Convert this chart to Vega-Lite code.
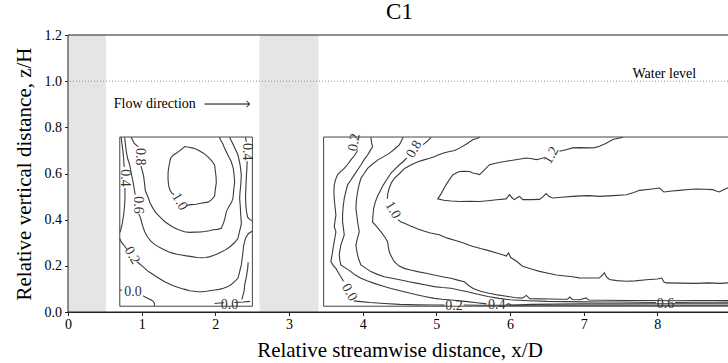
{
  "$schema": "https://vega.github.io/schema/vega-lite/v6.json",
  "width": 663,
  "height": 277,
  "autosize": {"type": "none"},
  "padding": {"left": 68, "top": 35, "right": 0, "bottom": 51},
  "background": "white",
  "title": {"text": "C1", "font": "Liberation Serif", "fontSize": 23, "fontWeight": "normal", "color": "black", "anchor": "middle", "offset": 4},
  "config": {
    "view": {"stroke": null},
    "axis": {
      "labelFont": "Liberation Serif", "titleFont": "Liberation Serif",
      "labelColor": "black", "titleColor": "black", "titleFontWeight": "normal",
      "domainColor": "#222", "tickColor": "#222", "domainWidth": 1, "tickWidth": 1,
      "grid": false, "labelFontSize": 14, "titleFontSize": 21, "tickSize": 3.5, "zindex": 1
    }
  },
  "layer": [
    {
      "description": "shaded cylinder footprints",
      "data": {"values": [
        {"x": 0, "x2": 0.515, "y": 0, "y2": 1.2},
        {"x": 2.6, "x2": 3.4, "y": 0, "y2": 1.2}
      ]},
      "mark": {"type": "rect", "color": "#e5e5e5"},
      "encoding": {
        "x": {"field": "x", "type": "quantitative", "scale": {"domain": [0, 9], "nice": false, "zero": false},
              "axis": {"title": "Relative streamwise distance, x/D", "values": [0, 1, 2, 3, 4, 5, 6, 7, 8], "format": "d", "labelFlush": false, "labelPadding": 2, "titlePadding": 8}},
        "x2": {"field": "x2"},
        "y": {"field": "y", "type": "quantitative", "scale": {"domain": [0, 1.2], "nice": false, "zero": false},
              "axis": {"title": "Relative vertical distance, z/H", "values": [0, 0.2, 0.4, 0.6, 0.8, 1.0, 1.2], "format": ".1f", "labelFlush": false, "labelPadding": 3, "titlePadding": 10}},
        "y2": {"field": "y2"}
      }
    },
    {
      "description": "water surface",
      "data": {"values": [{"y": 1.0}]},
      "mark": {"type": "rule", "color": "#777", "strokeDash": [1, 2], "strokeWidth": 0.8},
      "encoding": {"y": {"field": "y", "type": "quantitative"}}
    },
    {
      "description": "measurement windows",
      "data": {"values": [
        {"x": 0.703, "x2": 2.503, "y": 0.025, "y2": 0.758},
        {"x": 3.47, "x2": 9.0, "y": 0.025, "y2": 0.758}
      ]},
      "mark": {"type": "rect", "fillOpacity": 0, "stroke": "#444", "strokeWidth": 1},
      "encoding": {
        "x": {"field": "x", "type": "quantitative"}, "x2": {"field": "x2"},
        "y": {"field": "y", "type": "quantitative"}, "y2": {"field": "y2"}
      }
    },
    {
      "description": "velocity contour lines, one polyline per segment",
      "data": {"values": [
        {"c":"A10","x":1.60,"y":0.462},{"c":"A10","x":1.674,"y":0.465},{"c":"A10","x":1.74,"y":0.467},{"c":"A10","x":1.80,"y":0.471},{"c":"A10","x":1.90,"y":0.476},{"c":"A10","x":1.95,"y":0.487},{"c":"A10","x":1.99,"y":0.502},{"c":"A10","x":2.0,"y":0.53},{"c":"A10","x":2.013,"y":0.56},{"c":"A10","x":2.01,"y":0.585},{"c":"A10","x":2.0,"y":0.612},{"c":"A10","x":1.99,"y":0.637},{"c":"A10","x":1.95,"y":0.655},{"c":"A10","x":1.90,"y":0.672},{"c":"A10","x":1.84,"y":0.688},{"c":"A10","x":1.764,"y":0.702},{"c":"A10","x":1.70,"y":0.71},{"c":"A10","x":1.64,"y":0.714},{"c":"A10","x":1.583,"y":0.717},{"c":"A10","x":1.55,"y":0.707},{"c":"A10","x":1.50,"y":0.695},{"c":"A10","x":1.471,"y":0.688},{"c":"A10","x":1.43,"y":0.68},{"c":"A10","x":1.393,"y":0.666},{"c":"A10","x":1.375,"y":0.64},{"c":"A10","x":1.36,"y":0.61},{"c":"A10","x":1.357,"y":0.58},{"c":"A10","x":1.365,"y":0.55},{"c":"A10","x":1.385,"y":0.527},{"c":"A10","x":1.41,"y":0.515},{"c":"A10","x":1.44,"y":0.508},

        {"c":"A08a","x":0.858,"y":0.757},{"c":"A08a","x":0.90,"y":0.73},{"c":"A08a","x":0.955,"y":0.715},
        {"c":"A08b","x":0.99,"y":0.632},{"c":"A08b","x":1.012,"y":0.608},{"c":"A08b","x":1.028,"y":0.585},{"c":"A08b","x":1.041,"y":0.552},{"c":"A08b","x":1.05,"y":0.525},{"c":"A08b","x":1.07,"y":0.51},{"c":"A08b","x":1.086,"y":0.498},{"c":"A08b","x":1.115,"y":0.472},{"c":"A08b","x":1.153,"y":0.449},{"c":"A08b","x":1.20,"y":0.427},{"c":"A08b","x":1.267,"y":0.406},{"c":"A08b","x":1.32,"y":0.39},{"c":"A08b","x":1.38,"y":0.377},{"c":"A08b","x":1.44,"y":0.365},{"c":"A08b","x":1.50,"y":0.356},{"c":"A08b","x":1.583,"y":0.348},{"c":"A08b","x":1.65,"y":0.345},{"c":"A08b","x":1.72,"y":0.346},{"c":"A08b","x":1.80,"y":0.347},{"c":"A08b","x":1.855,"y":0.349},{"c":"A08b","x":1.92,"y":0.352},{"c":"A08b","x":1.97,"y":0.356},{"c":"A08b","x":2.03,"y":0.358},{"c":"A08b","x":2.081,"y":0.363},{"c":"A08b","x":2.11,"y":0.385},{"c":"A08b","x":2.126,"y":0.40},{"c":"A08b","x":2.15,"y":0.435},{"c":"A08b","x":2.19,"y":0.46},{"c":"A08b","x":2.22,"y":0.475},{"c":"A08b","x":2.239,"y":0.492},{"c":"A08b","x":2.25,"y":0.53},{"c":"A08b","x":2.262,"y":0.565},{"c":"A08b","x":2.255,"y":0.59},{"c":"A08b","x":2.245,"y":0.62},{"c":"A08b","x":2.217,"y":0.651},{"c":"A08b","x":2.17,"y":0.68},{"c":"A08b","x":2.126,"y":0.709},{"c":"A08b","x":2.10,"y":0.73},{"c":"A08b","x":2.07,"y":0.745},{"c":"A08b","x":2.058,"y":0.757},

        {"c":"A06a","x":0.769,"y":0.757},{"c":"A06a","x":0.78,"y":0.725},{"c":"A06a","x":0.792,"y":0.694},{"c":"A06a","x":0.81,"y":0.665},{"c":"A06a","x":0.837,"y":0.637},{"c":"A06a","x":0.86,"y":0.60},{"c":"A06a","x":0.882,"y":0.565},{"c":"A06a","x":0.898,"y":0.535},{"c":"A06a","x":0.912,"y":0.508},
        {"c":"A06b","x":0.962,"y":0.424},{"c":"A06b","x":0.986,"y":0.406},{"c":"A06b","x":1.01,"y":0.376},{"c":"A06b","x":1.041,"y":0.348},{"c":"A06b","x":1.08,"y":0.325},{"c":"A06b","x":1.131,"y":0.305},{"c":"A06b","x":1.18,"y":0.292},{"c":"A06b","x":1.24,"y":0.28},{"c":"A06b","x":1.312,"y":0.269},{"c":"A06b","x":1.37,"y":0.26},{"c":"A06b","x":1.42,"y":0.255},{"c":"A06b","x":1.48,"y":0.25},{"c":"A06b","x":1.539,"y":0.247},{"c":"A06b","x":1.61,"y":0.243},{"c":"A06b","x":1.68,"y":0.24},{"c":"A06b","x":1.75,"y":0.236},{"c":"A06b","x":1.81,"y":0.235},{"c":"A06b","x":1.87,"y":0.236},{"c":"A06b","x":1.93,"y":0.24},{"c":"A06b","x":1.99,"y":0.247},{"c":"A06b","x":2.04,"y":0.253},{"c":"A06b","x":2.08,"y":0.26},{"c":"A06b","x":2.13,"y":0.268},{"c":"A06b","x":2.171,"y":0.276},{"c":"A06b","x":2.21,"y":0.286},{"c":"A06b","x":2.26,"y":0.30},{"c":"A06b","x":2.307,"y":0.319},{"c":"A06b","x":2.325,"y":0.345},{"c":"A06b","x":2.345,"y":0.37},{"c":"A06b","x":2.353,"y":0.384},{"c":"A06b","x":2.345,"y":0.42},{"c":"A06b","x":2.338,"y":0.46},{"c":"A06b","x":2.33,"y":0.492},{"c":"A06b","x":2.335,"y":0.52},{"c":"A06b","x":2.345,"y":0.55},{"c":"A06b","x":2.353,"y":0.594},{"c":"A06b","x":2.335,"y":0.64},{"c":"A06b","x":2.307,"y":0.68},{"c":"A06b","x":2.28,"y":0.70},{"c":"A06b","x":2.25,"y":0.72},{"c":"A06b","x":2.22,"y":0.74},{"c":"A06b","x":2.194,"y":0.757},

        {"c":"A04a","x":0.722,"y":0.757},{"c":"A04a","x":0.732,"y":0.73},{"c":"A04a","x":0.745,"y":0.70},{"c":"A04a","x":0.755,"y":0.665},{"c":"A04a","x":0.762,"y":0.628},
        {"c":"A04b","x":0.772,"y":0.537},{"c":"A04b","x":0.774,"y":0.50},{"c":"A04b","x":0.768,"y":0.46},{"c":"A04b","x":0.755,"y":0.42},{"c":"A04b","x":0.738,"y":0.385},{"c":"A04b","x":0.72,"y":0.36},{"c":"A04b","x":0.704,"y":0.345},
        {"c":"A04c","x":2.41,"y":0.757},{"c":"A04c","x":2.42,"y":0.737},
        {"c":"A04d","x":2.432,"y":0.653},{"c":"A04d","x":2.428,"y":0.62},{"c":"A04d","x":2.42,"y":0.58},{"c":"A04d","x":2.415,"y":0.54},{"c":"A04d","x":2.41,"y":0.50},{"c":"A04d","x":2.415,"y":0.46},{"c":"A04d","x":2.425,"y":0.43},{"c":"A04d","x":2.44,"y":0.41},{"c":"A04d","x":2.47,"y":0.40},{"c":"A04d","x":2.50,"y":0.395},

        {"c":"A02a","x":0.703,"y":0.318},{"c":"A02a","x":0.72,"y":0.305},{"c":"A02a","x":0.745,"y":0.295},{"c":"A02a","x":0.77,"y":0.285},{"c":"A02a","x":0.80,"y":0.272},
        {"c":"A02b","x":0.935,"y":0.218},{"c":"A02b","x":0.965,"y":0.21},{"c":"A02b","x":0.996,"y":0.202},{"c":"A02b","x":1.04,"y":0.19},{"c":"A02b","x":1.08,"y":0.178},{"c":"A02b","x":1.13,"y":0.168},{"c":"A02b","x":1.176,"y":0.158},{"c":"A02b","x":1.25,"y":0.143},{"c":"A02b","x":1.312,"y":0.131},{"c":"A02b","x":1.37,"y":0.122},{"c":"A02b","x":1.42,"y":0.115},{"c":"A02b","x":1.48,"y":0.108},{"c":"A02b","x":1.539,"y":0.102},{"c":"A02b","x":1.60,"y":0.097},{"c":"A02b","x":1.65,"y":0.092},{"c":"A02b","x":1.71,"y":0.09},{"c":"A02b","x":1.764,"y":0.088},{"c":"A02b","x":1.82,"y":0.088},{"c":"A02b","x":1.88,"y":0.09},{"c":"A02b","x":1.94,"y":0.093},{"c":"A02b","x":1.99,"y":0.095},{"c":"A02b","x":2.05,"y":0.098},{"c":"A02b","x":2.11,"y":0.103},{"c":"A02b","x":2.171,"y":0.11},{"c":"A02b","x":2.22,"y":0.12},{"c":"A02b","x":2.26,"y":0.132},{"c":"A02b","x":2.307,"y":0.146},{"c":"A02b","x":2.33,"y":0.175},{"c":"A02b","x":2.353,"y":0.204},{"c":"A02b","x":2.365,"y":0.235},{"c":"A02b","x":2.375,"y":0.261},{"c":"A02b","x":2.385,"y":0.29},{"c":"A02b","x":2.41,"y":0.32},{"c":"A02b","x":2.45,"y":0.34},{"c":"A02b","x":2.50,"y":0.35},

        {"c":"A00a","x":0.703,"y":0.095},{"c":"A00a","x":0.735,"y":0.094},
        {"c":"A00b","x":1.02,"y":0.07},{"c":"A00b","x":1.041,"y":0.066},{"c":"A00b","x":1.08,"y":0.06},{"c":"A00b","x":1.131,"y":0.052},{"c":"A00b","x":1.155,"y":0.046},{"c":"A00b","x":1.17,"y":0.04},{"c":"A00b","x":1.176,"y":0.034},{"c":"A00b","x":1.17,"y":0.027},
        {"c":"A00c","x":1.99,"y":0.037},{"c":"A00c","x":2.06,"y":0.039},{"c":"A00c","x":2.12,"y":0.04},
        {"c":"A00d","x":2.26,"y":0.041},{"c":"A00d","x":2.32,"y":0.042},{"c":"A00d","x":2.38,"y":0.043},{"c":"A00d","x":2.44,"y":0.045},{"c":"A00d","x":2.47,"y":0.046},
        {"c":"A0e","x":2.36,"y":0.055},{"c":"A0e","x":2.39,"y":0.09},{"c":"A0e","x":2.40,"y":0.12},{"c":"A0e","x":2.42,"y":0.15},{"c":"A0e","x":2.44,"y":0.19},{"c":"A0e","x":2.445,"y":0.215},

        {"c":"B02a","x":3.931,"y":0.700},{"c":"B02a","x":3.89,"y":0.678},{"c":"B02a","x":3.84,"y":0.659},{"c":"B02a","x":3.80,"y":0.641},{"c":"B02a","x":3.75,"y":0.622},{"c":"B02a","x":3.70,"y":0.608},{"c":"B02a","x":3.659,"y":0.594},{"c":"B02a","x":3.63,"y":0.572},{"c":"B02a","x":3.614,"y":0.55},{"c":"B02a","x":3.61,"y":0.52},{"c":"B02a","x":3.614,"y":0.492},{"c":"B02a","x":3.625,"y":0.455},{"c":"B02a","x":3.637,"y":0.42},{"c":"B02a","x":3.625,"y":0.395},{"c":"B02a","x":3.614,"y":0.37},{"c":"B02a","x":3.637,"y":0.348},{"c":"B02a","x":3.625,"y":0.325},{"c":"B02a","x":3.614,"y":0.305},{"c":"B02a","x":3.60,"y":0.28},{"c":"B02a","x":3.592,"y":0.261},{"c":"B02a","x":3.58,"y":0.24},{"c":"B02a","x":3.569,"y":0.218},{"c":"B02a","x":3.60,"y":0.202},{"c":"B02a","x":3.637,"y":0.189},{"c":"B02a","x":3.67,"y":0.17},{"c":"B02a","x":3.704,"y":0.153},{"c":"B02a","x":3.74,"y":0.133},
        {"c":"B02b","x":3.88,"y":0.048},{"c":"B02b","x":3.976,"y":0.045},{"c":"B02b","x":4.1,"y":0.041},{"c":"B02b","x":4.293,"y":0.037},{"c":"B02b","x":4.5,"y":0.033},{"c":"B02b","x":4.745,"y":0.031},{"c":"B02b","x":5.0,"y":0.030},{"c":"B02b","x":5.11,"y":0.030},
        {"c":"B02c","x":5.37,"y":0.030},{"c":"B02c","x":5.6,"y":0.029},{"c":"B02c","x":6.0,"y":0.029},{"c":"B02c","x":6.5,"y":0.029},{"c":"B02c","x":7.0,"y":0.029},{"c":"B02c","x":7.5,"y":0.029},{"c":"B02c","x":8.0,"y":0.029},{"c":"B02c","x":8.5,"y":0.029},{"c":"B02c","x":9.0,"y":0.029},

        {"c":"B04a","x":4.111,"y":0.757},{"c":"B04a","x":4.12,"y":0.735},{"c":"B04a","x":4.134,"y":0.716},{"c":"B04a","x":4.10,"y":0.698},{"c":"B04a","x":4.067,"y":0.68},{"c":"B04a","x":4.02,"y":0.66},{"c":"B04a","x":3.976,"y":0.637},{"c":"B04a","x":3.93,"y":0.615},{"c":"B04a","x":3.886,"y":0.594},{"c":"B04a","x":3.84,"y":0.572},{"c":"B04a","x":3.795,"y":0.55},{"c":"B04a","x":3.77,"y":0.52},{"c":"B04a","x":3.75,"y":0.492},{"c":"B04a","x":3.735,"y":0.455},{"c":"B04a","x":3.727,"y":0.42},{"c":"B04a","x":3.727,"y":0.391},{"c":"B04a","x":3.74,"y":0.36},{"c":"B04a","x":3.75,"y":0.334},{"c":"B04a","x":3.725,"y":0.31},{"c":"B04a","x":3.704,"y":0.29},{"c":"B04a","x":3.69,"y":0.265},{"c":"B04a","x":3.682,"y":0.247},{"c":"B04a","x":3.69,"y":0.225},{"c":"B04a","x":3.704,"y":0.204},{"c":"B04a","x":3.77,"y":0.19},{"c":"B04a","x":3.84,"y":0.175},{"c":"B04a","x":3.90,"y":0.16},{"c":"B04a","x":3.976,"y":0.146},{"c":"B04a","x":4.06,"y":0.135},{"c":"B04a","x":4.157,"y":0.124},{"c":"B04a","x":4.27,"y":0.113},{"c":"B04a","x":4.383,"y":0.102},{"c":"B04a","x":4.47,"y":0.095},{"c":"B04a","x":4.564,"y":0.088},{"c":"B04a","x":4.65,"y":0.081},{"c":"B04a","x":4.745,"y":0.074},{"c":"B04a","x":4.86,"y":0.066},{"c":"B04a","x":4.971,"y":0.059},{"c":"B04a","x":5.08,"y":0.055},{"c":"B04a","x":5.197,"y":0.052},{"c":"B04a","x":5.31,"y":0.048},{"c":"B04a","x":5.423,"y":0.045},{"c":"B04a","x":5.55,"y":0.04},{"c":"B04a","x":5.68,"y":0.035},
        {"c":"B04b","x":5.95,"y":0.031},{"c":"B04b","x":5.98,"y":0.036},{"c":"B04b","x":6.01,"y":0.031},{"c":"B04b","x":6.05,"y":0.030},{"c":"B04b","x":6.3,"y":0.033},{"c":"B04b","x":6.6,"y":0.034},{"c":"B04b","x":7.0,"y":0.035},{"c":"B04b","x":7.5,"y":0.035},{"c":"B04b","x":8.0,"y":0.036},{"c":"B04b","x":8.5,"y":0.036},{"c":"B04b","x":9.0,"y":0.036},

        {"c":"B06a","x":4.55,"y":0.757},{"c":"B06a","x":4.52,"y":0.738},{"c":"B06a","x":4.497,"y":0.724},{"c":"B06a","x":4.43,"y":0.705},{"c":"B06a","x":4.361,"y":0.687},{"c":"B06a","x":4.28,"y":0.672},{"c":"B06a","x":4.202,"y":0.658},{"c":"B06a","x":4.13,"y":0.64},{"c":"B06a","x":4.067,"y":0.622},{"c":"B06a","x":4.02,"y":0.60},{"c":"B06a","x":3.976,"y":0.579},{"c":"B06a","x":3.95,"y":0.55},{"c":"B06a","x":3.931,"y":0.521},{"c":"B06a","x":3.915,"y":0.485},{"c":"B06a","x":3.908,"y":0.449},{"c":"B06a","x":3.92,"y":0.42},{"c":"B06a","x":3.931,"y":0.391},{"c":"B06a","x":3.954,"y":0.348},{"c":"B06a","x":3.93,"y":0.32},{"c":"B06a","x":3.908,"y":0.29},{"c":"B06a","x":3.92,"y":0.265},{"c":"B06a","x":3.931,"y":0.247},{"c":"B06a","x":3.95,"y":0.225},{"c":"B06a","x":3.976,"y":0.204},{"c":"B06a","x":4.04,"y":0.19},{"c":"B06a","x":4.111,"y":0.175},{"c":"B06a","x":4.2,"y":0.163},{"c":"B06a","x":4.293,"y":0.153},{"c":"B06a","x":4.4,"y":0.146},{"c":"B06a","x":4.518,"y":0.139},{"c":"B06a","x":4.63,"y":0.131},{"c":"B06a","x":4.745,"y":0.124},{"c":"B06a","x":4.86,"y":0.117},{"c":"B06a","x":4.971,"y":0.11},{"c":"B06a","x":5.08,"y":0.106},{"c":"B06a","x":5.197,"y":0.103},{"c":"B06a","x":5.31,"y":0.095},{"c":"B06a","x":5.423,"y":0.088},{"c":"B06a","x":5.55,"y":0.078},{"c":"B06a","x":5.7,"y":0.067},{"c":"B06a","x":5.85,"y":0.059},{"c":"B06a","x":6.0,"y":0.053},{"c":"B06a","x":6.25,"y":0.049},{"c":"B06a","x":6.5,"y":0.046},{"c":"B06a","x":6.75,"y":0.045},{"c":"B06a","x":7.0,"y":0.044},{"c":"B06a","x":7.25,"y":0.043},{"c":"B06a","x":7.5,"y":0.043},{"c":"B06a","x":7.75,"y":0.042},{"c":"B06a","x":7.98,"y":0.041},
        {"c":"B06b","x":8.24,"y":0.041},{"c":"B06b","x":8.5,"y":0.042},{"c":"B06b","x":8.75,"y":0.042},{"c":"B06b","x":9.0,"y":0.043},

        {"c":"B08a","x":4.93,"y":0.757},{"c":"B08a","x":4.88,"y":0.74},{"c":"B08a","x":4.82,"y":0.725},
        {"c":"B08b","x":4.60,"y":0.668},{"c":"B08b","x":4.55,"y":0.652},{"c":"B08b","x":4.50,"y":0.638},{"c":"B08b","x":4.44,"y":0.62},{"c":"B08b","x":4.38,"y":0.60},{"c":"B08b","x":4.33,"y":0.575},{"c":"B08b","x":4.28,"y":0.55},{"c":"B08b","x":4.24,"y":0.525},{"c":"B08b","x":4.20,"y":0.50},{"c":"B08b","x":4.17,"y":0.475},{"c":"B08b","x":4.15,"y":0.45},{"c":"B08b","x":4.14,"y":0.42},{"c":"B08b","x":4.134,"y":0.39},{"c":"B08b","x":4.19,"y":0.37},{"c":"B08b","x":4.247,"y":0.348},{"c":"B08b","x":4.30,"y":0.325},{"c":"B08b","x":4.338,"y":0.305},{"c":"B08b","x":4.35,"y":0.28},{"c":"B08b","x":4.361,"y":0.261},{"c":"B08b","x":4.39,"y":0.24},{"c":"B08b","x":4.429,"y":0.218},{"c":"B08b","x":4.49,"y":0.20},{"c":"B08b","x":4.564,"y":0.189},{"c":"B08b","x":4.65,"y":0.182},{"c":"B08b","x":4.745,"y":0.175},{"c":"B08b","x":4.86,"y":0.168},{"c":"B08b","x":4.971,"y":0.16},{"c":"B08b","x":5.08,"y":0.153},{"c":"B08b","x":5.197,"y":0.146},{"c":"B08b","x":5.29,"y":0.138},{"c":"B08b","x":5.378,"y":0.131},{"c":"B08b","x":5.44,"y":0.115},{"c":"B08b","x":5.5,"y":0.102},{"c":"B08b","x":5.6,"y":0.09},{"c":"B08b","x":5.7,"y":0.082},{"c":"B08b","x":5.83,"y":0.074},{"c":"B08b","x":5.95,"y":0.068},{"c":"B08b","x":6.06,"y":0.063},{"c":"B08b","x":6.17,"y":0.06},{"c":"B08b","x":6.22,"y":0.072},{"c":"B08b","x":6.27,"y":0.058},{"c":"B08b","x":6.4,"y":0.057},{"c":"B08b","x":6.55,"y":0.056},{"c":"B08b","x":6.7,"y":0.055},{"c":"B08b","x":6.78,"y":0.055},{"c":"B08b","x":6.81,"y":0.065},{"c":"B08b","x":6.85,"y":0.054},{"c":"B08b","x":6.95,"y":0.053},{"c":"B08b","x":7.03,"y":0.061},{"c":"B08b","x":7.07,"y":0.052},{"c":"B08b","x":7.3,"y":0.051},{"c":"B08b","x":7.6,"y":0.05},{"c":"B08b","x":7.9,"y":0.05},{"c":"B08b","x":8.2,"y":0.049},{"c":"B08b","x":8.5,"y":0.05},{"c":"B08b","x":8.8,"y":0.05},{"c":"B08b","x":9.0,"y":0.05},

        {"c":"B10a","x":5.59,"y":0.757},{"c":"B10a","x":5.55,"y":0.752},{"c":"B10a","x":5.50,"y":0.747},{"c":"B10a","x":5.41,"y":0.728},{"c":"B10a","x":5.32,"y":0.711},{"c":"B10a","x":5.25,"y":0.70},{"c":"B10a","x":5.18,"y":0.695},{"c":"B10a","x":5.11,"y":0.69},{"c":"B10a","x":5.04,"y":0.682},{"c":"B10a","x":4.97,"y":0.673},{"c":"B10a","x":4.90,"y":0.665},{"c":"B10a","x":4.82,"y":0.658},{"c":"B10a","x":4.75,"y":0.651},{"c":"B10a","x":4.66,"y":0.638},{"c":"B10a","x":4.57,"y":0.622},{"c":"B10a","x":4.50,"y":0.60},{"c":"B10a","x":4.43,"y":0.579},{"c":"B10a","x":4.39,"y":0.56},{"c":"B10a","x":4.36,"y":0.536},{"c":"B10a","x":4.34,"y":0.512},{"c":"B10a","x":4.335,"y":0.49},
        {"c":"B10b","x":4.48,"y":0.40},{"c":"B10b","x":4.52,"y":0.39},{"c":"B10b","x":4.56,"y":0.386},{"c":"B10b","x":4.65,"y":0.373},{"c":"B10b","x":4.75,"y":0.36},{"c":"B10b","x":4.84,"y":0.35},{"c":"B10b","x":4.92,"y":0.342},{"c":"B10b","x":5.04,"y":0.335},{"c":"B10b","x":5.15,"y":0.32},{"c":"B10b","x":5.26,"y":0.31},{"c":"B10b","x":5.37,"y":0.299},{"c":"B10b","x":5.44,"y":0.29},{"c":"B10b","x":5.50,"y":0.284},{"c":"B10b","x":5.6,"y":0.275},{"c":"B10b","x":5.71,"y":0.266},{"c":"B10b","x":5.82,"y":0.256},{"c":"B10b","x":5.9,"y":0.248},{"c":"B10b","x":5.95,"y":0.242},{"c":"B10b","x":5.98,"y":0.256},{"c":"B10b","x":6.01,"y":0.236},{"c":"B10b","x":6.08,"y":0.222},{"c":"B10b","x":6.17,"y":0.198},{"c":"B10b","x":6.3,"y":0.185},{"c":"B10b","x":6.4,"y":0.176},{"c":"B10b","x":6.52,"y":0.168},{"c":"B10b","x":6.63,"y":0.16},{"c":"B10b","x":6.75,"y":0.156},{"c":"B10b","x":6.85,"y":0.153},{"c":"B10b","x":6.94,"y":0.148},{"c":"B10b","x":7.08,"y":0.147},{"c":"B10b","x":7.21,"y":0.147},{"c":"B10b","x":7.25,"y":0.158},{"c":"B10b","x":7.28,"y":0.17},{"c":"B10b","x":7.31,"y":0.152},{"c":"B10b","x":7.35,"y":0.141},{"c":"B10b","x":7.45,"y":0.136},{"c":"B10b","x":7.58,"y":0.133},{"c":"B10b","x":7.7,"y":0.135},{"c":"B10b","x":7.85,"y":0.14},{"c":"B10b","x":8.0,"y":0.143},{"c":"B10b","x":8.06,"y":0.147},{"c":"B10b","x":8.09,"y":0.13},{"c":"B10b","x":8.12,"y":0.126},{"c":"B10b","x":8.3,"y":0.125},{"c":"B10b","x":8.52,"y":0.124},{"c":"B10b","x":8.7,"y":0.126},{"c":"B10b","x":8.85,"y":0.124},{"c":"B10b","x":9.0,"y":0.127},

        {"c":"B12a","x":7.531,"y":0.757},{"c":"B12a","x":7.46,"y":0.752},{"c":"B12a","x":7.395,"y":0.747},{"c":"B12a","x":7.30,"y":0.73},{"c":"B12a","x":7.214,"y":0.718},{"c":"B12a","x":7.15,"y":0.712},{"c":"B12a","x":7.08,"y":0.711},{"c":"B12a","x":6.96,"y":0.712},{"c":"B12a","x":6.852,"y":0.711},{"c":"B12a","x":6.76,"y":0.703},{"c":"B12a","x":6.672,"y":0.696},
        {"c":"B12b","x":6.46,"y":0.668},{"c":"B12b","x":6.40,"y":0.663},{"c":"B12b","x":6.355,"y":0.66},{"c":"B12b","x":6.30,"y":0.664},{"c":"B12b","x":6.22,"y":0.667},{"c":"B12b","x":6.10,"y":0.661},{"c":"B12b","x":5.948,"y":0.653},{"c":"B12b","x":5.85,"y":0.648},{"c":"B12b","x":5.722,"y":0.638},{"c":"B12b","x":5.65,"y":0.615},{"c":"B12b","x":5.586,"y":0.595},{"c":"B12b","x":5.53,"y":0.60},{"c":"B12b","x":5.495,"y":0.602},{"c":"B12b","x":5.451,"y":0.609},{"c":"B12b","x":5.38,"y":0.61},{"c":"B12b","x":5.315,"y":0.609},{"c":"B12b","x":5.27,"y":0.602},{"c":"B12b","x":5.225,"y":0.595},{"c":"B12b","x":5.17,"y":0.57},{"c":"B12b","x":5.12,"y":0.545},{"c":"B12b","x":5.07,"y":0.515},{"c":"B12b","x":5.02,"y":0.49},{"c":"B12b","x":5.10,"y":0.484},{"c":"B12b","x":5.2,"y":0.481},{"c":"B12b","x":5.315,"y":0.479},{"c":"B12b","x":5.45,"y":0.48},{"c":"B12b","x":5.586,"y":0.479},{"c":"B12b","x":5.7,"y":0.482},{"c":"B12b","x":5.82,"y":0.486},{"c":"B12b","x":5.948,"y":0.49},{"c":"B12b","x":5.993,"y":0.508},{"c":"B12b","x":6.03,"y":0.494},{"c":"B12b","x":6.061,"y":0.487},{"c":"B12b","x":6.1,"y":0.496},{"c":"B12b","x":6.129,"y":0.501},{"c":"B12b","x":6.174,"y":0.487},{"c":"B12b","x":6.28,"y":0.487},{"c":"B12b","x":6.40,"y":0.488},{"c":"B12b","x":6.45,"y":0.50},{"c":"B12b","x":6.49,"y":0.513},{"c":"B12b","x":6.53,"y":0.50},{"c":"B12b","x":6.58,"y":0.494},{"c":"B12b","x":6.7,"y":0.497},{"c":"B12b","x":6.85,"y":0.501},{"c":"B12b","x":6.96,"y":0.503},{"c":"B12b","x":7.08,"y":0.504},{"c":"B12b","x":7.21,"y":0.501},{"c":"B12b","x":7.4,"y":0.504},{"c":"B12b","x":7.58,"y":0.508},{"c":"B12b","x":7.68,"y":0.518},{"c":"B12b","x":7.76,"y":0.527},{"c":"B12b","x":7.9,"y":0.532},{"c":"B12b","x":8.03,"y":0.537},{"c":"B12b","x":8.06,"y":0.528},{"c":"B12b","x":8.09,"y":0.52},{"c":"B12b","x":8.2,"y":0.524},{"c":"B12b","x":8.30,"y":0.527},{"c":"B12b","x":8.42,"y":0.531},{"c":"B12b","x":8.52,"y":0.533},{"c":"B12b","x":8.65,"y":0.532},{"c":"B12b","x":8.75,"y":0.53},{"c":"B12b","x":8.8,"y":0.524},{"c":"B12b","x":8.84,"y":0.52},{"c":"B12b","x":8.9,"y":0.53},{"c":"B12b","x":8.95,"y":0.537},{"c":"B12b","x":9.0,"y":0.54}
      ]},
      "mark": {"type": "line", "color": "#3a3a3a", "strokeWidth": 1.1},
      "encoding": {
        "x": {"field": "x", "type": "quantitative"},
        "y": {"field": "y", "type": "quantitative"},
        "detail": {"field": "c"},
        "order": {"value": null}
      }
    },
    {
      "description": "contour labels along near-vertical lines",
      "data": {"values": [
        {"t": "0.8", "x": 0.973, "y": 0.673},
        {"t": "0.4", "x": 0.78, "y": 0.58},
        {"t": "0.6", "x": 0.95, "y": 0.464},
        {"t": "0.4", "x": 2.43, "y": 0.694}
      ]},
      "mark": {"type": "text", "angle": 90, "font": "Liberation Serif", "fontSize": 14, "color": "#333", "align": "center", "baseline": "middle"},
      "encoding": {"x": {"field": "x", "type": "quantitative"}, "y": {"field": "y", "type": "quantitative"}, "text": {"field": "t"}}
    },
    {
      "description": "contour labels on lines falling to the right",
      "data": {"values": [
        {"t": "1.0", "x": 1.516, "y": 0.478},
        {"t": "0.2", "x": 0.87, "y": 0.245},
        {"t": "1.0", "x": 4.41, "y": 0.442},
        {"t": "0.0", "x": 3.818, "y": 0.085}
      ]},
      "mark": {"type": "text", "angle": 60, "font": "Liberation Serif", "fontSize": 14, "color": "#333", "align": "center", "baseline": "middle"},
      "encoding": {"x": {"field": "x", "type": "quantitative"}, "y": {"field": "y", "type": "quantitative"}, "text": {"field": "t"}}
    },
    {
      "description": "contour labels on lines rising to the right",
      "data": {"values": [
        {"t": "0.8", "x": 4.70, "y": 0.705},
        {"t": "1.2", "x": 6.56, "y": 0.678}
      ]},
      "mark": {"type": "text", "angle": -60, "font": "Liberation Serif", "fontSize": 14, "color": "#333", "align": "center", "baseline": "middle"},
      "encoding": {"x": {"field": "x", "type": "quantitative"}, "y": {"field": "y", "type": "quantitative"}, "text": {"field": "t"}}
    },
    {
      "description": "contour label at the upper left of the wake window",
      "data": {"values": [
        {"t": "0.2", "x": 3.886, "y": 0.735}
      ]},
      "mark": {"type": "text", "angle": -80, "font": "Liberation Serif", "fontSize": 14, "color": "#333", "align": "center", "baseline": "middle"},
      "encoding": {"x": {"field": "x", "type": "quantitative"}, "y": {"field": "y", "type": "quantitative"}, "text": {"field": "t"}}
    },
    {
      "description": "contour labels along the bed",
      "data": {"values": [
        {"t": "0.0", "x": 0.882, "y": 0.086},
        {"t": "0.0", "x": 2.194, "y": 0.032},
        {"t": "0.2", "x": 5.24, "y": 0.028},
        {"t": "0.4", "x": 5.82, "y": 0.029},
        {"t": "0.6", "x": 8.11, "y": 0.033}
      ]},
      "mark": {"type": "text", "font": "Liberation Serif", "fontSize": 14, "color": "#333", "align": "center", "baseline": "middle"},
      "encoding": {"x": {"field": "x", "type": "quantitative"}, "y": {"field": "y", "type": "quantitative"}, "text": {"field": "t"}}
    },
    {
      "description": "annotations",
      "data": {"values": [
        {"t": "Flow direction", "x": 0.621, "y": 0.884},
        {"t": "Water level", "x": 7.662, "y": 1.014}
      ]},
      "mark": {"type": "text", "font": "Liberation Serif", "fontSize": 14, "color": "black", "align": "left", "baseline": "alphabetic"},
      "encoding": {"x": {"field": "x", "type": "quantitative"}, "y": {"field": "y", "type": "quantitative"}, "text": {"field": "t"}}
    },
    {
      "description": "flow arrow shaft",
      "data": {"values": [
        {"x": 1.855, "y": 0.901},
        {"x": 2.466, "y": 0.901}
      ]},
      "mark": {"type": "line", "color": "black", "strokeWidth": 1},
      "encoding": {"x": {"field": "x", "type": "quantitative"}, "y": {"field": "y", "type": "quantitative"}}
    },
    {
      "description": "flow arrow head",
      "data": {"values": [
        {"x": 2.466, "y": 0.901}
      ]},
      "mark": {"type": "point", "shape": "M -1 -1 L 0 0 L -1 1", "filled": false, "size": 40, "stroke": "black", "strokeWidth": 1, "opacity": 1},
      "encoding": {"x": {"field": "x", "type": "quantitative"}, "y": {"field": "y", "type": "quantitative"}}
    },
    {
      "description": "plot frame drawn over the shaded bands",
      "data": {"values": [{"x": 0, "x2": 9, "y": 0, "y2": 1.2}]},
      "mark": {"type": "rect", "fillOpacity": 0, "stroke": "#222", "strokeWidth": 1},
      "encoding": {
        "x": {"field": "x", "type": "quantitative"}, "x2": {"field": "x2"},
        "y": {"field": "y", "type": "quantitative"}, "y2": {"field": "y2"}
      }
    }
  ]
}
